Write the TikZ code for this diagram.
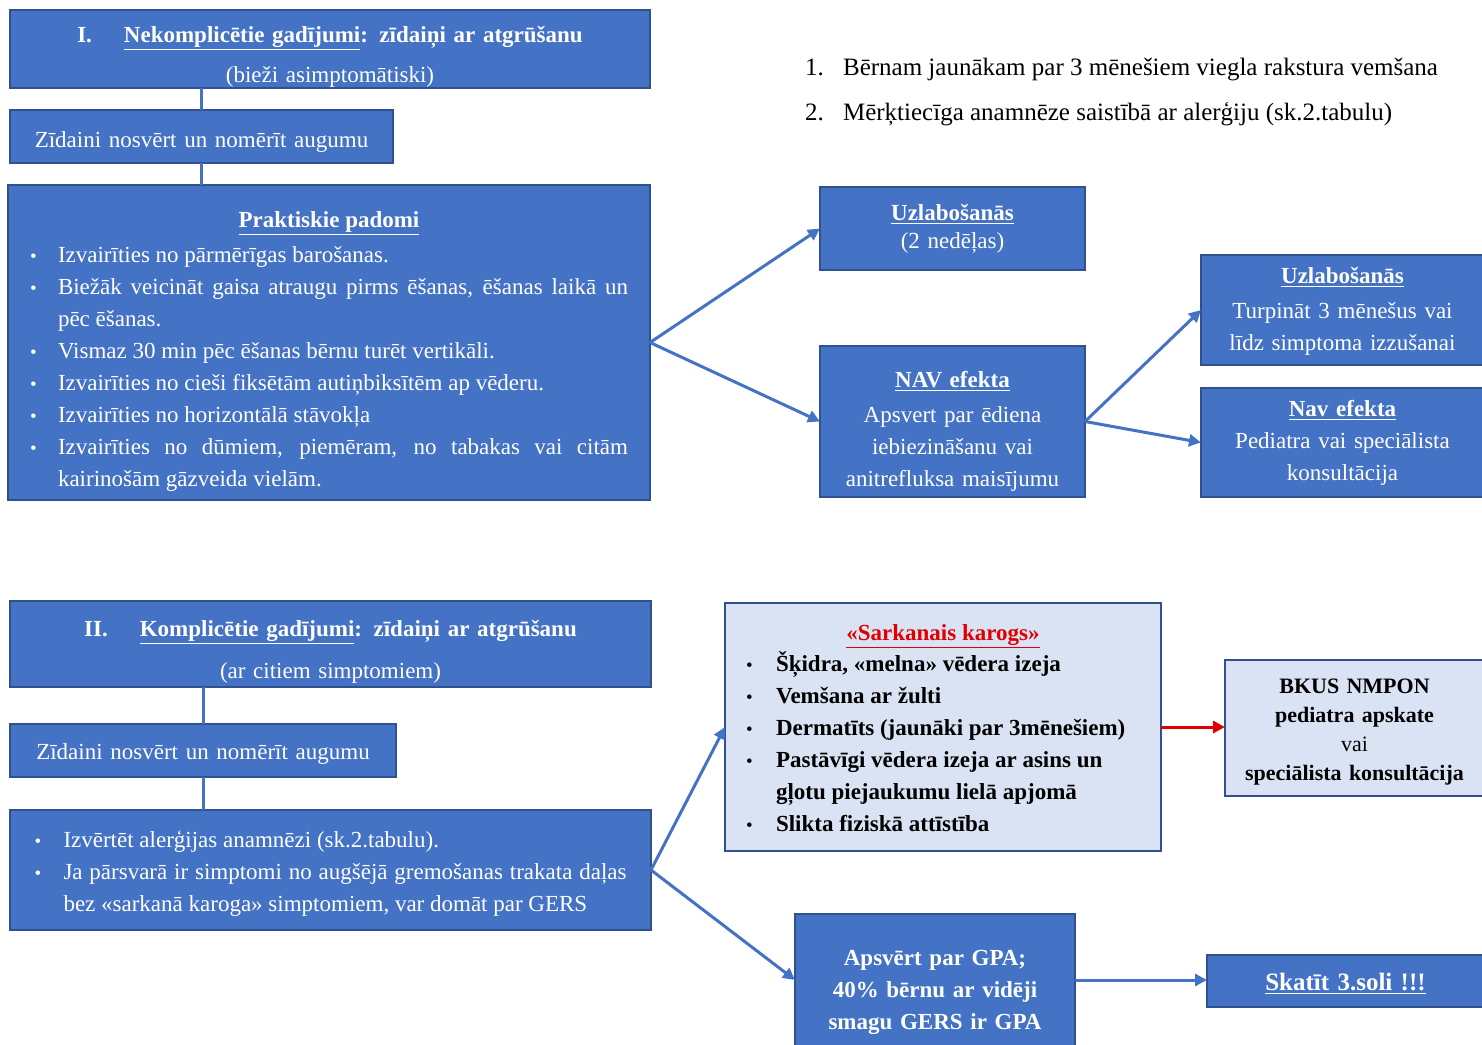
\documentclass[tikz,border=0pt]{standalone}
\usepackage{fontspec}
\setmainfont{Liberation Serif}
\usetikzlibrary{arrows.meta}

\definecolor{boxblue}{HTML}{4472C4}
\definecolor{boxedge}{HTML}{2F528F}
\definecolor{paleblue}{HTML}{DAE3F3}
\definecolor{flagred}{HTML}{E00000}

\hyphenpenalty=10000
\setlength{\parindent}{0pt}
\newcommand{\topgap}[1]{\rule{0pt}{#1}}
\newcommand{\botgap}[1]{\rule[-#1]{0pt}{0pt}}
\newcommand{\pitem}[1][14pt]{\par\noindent\hangindent=#1\hangafter=1\makebox[#1][l]{\fontsize{9.5}{9.5}\selectfont\textbullet}}

\tikzset{
  bluebox/.style={draw=boxedge, line width=0.8pt, fill=boxblue, text=white,
    inner xsep=0pt, inner ysep=0pt, outer sep=0pt, anchor=north west, align=center,
    font=\fontsize{11.5}{16}\selectfont},
  palebox/.style={bluebox, fill=paleblue, text=black},
  link/.style={draw=boxblue, line width=1.5pt},
  flow/.style={link, -{Triangle[length=6pt,width=6pt]}},
  redflow/.style={flow, draw=flagred},
  note/.style={anchor=base west, font=\fontsize{12.5}{15}\selectfont}
}

\begin{document}
\begin{tikzpicture}[x=0.5pt, y=-0.5pt]
\useasboundingbox (0,0) rectangle (1482,1044);

\node[bluebox, text width=320pt] (ttl1) at (10,10)
  {\topgap{16pt}\textbf{I.\hspace{16pt}\underline{Nekomplicētie gadījumi}: zīdaiņi ar atgrūšanu}\\[4pt]
   (bieži asimptomātiski)\botgap{3pt}};
\node[bluebox, text width=191.5pt] (zid1) at (10,110)
  {\topgap{18.5pt}Zīdaini nosvērt un nomērīt augumu\botgap{8pt}};
\node[bluebox, align=justify, text width=299pt, inner xsep=11pt] (pad) at (8,185)
  {{\centering\topgap{21pt}\textbf{\underline{Praktiskie padomi}}\par}\vspace{1.5pt}
   \pitem Izvairīties no pārmērīgas barošanas.
   \pitem Biežāk veicināt gaisa atraugu pirms ēšanas, ēšanas laikā un\linebreak pēc ēšanas.
   \pitem Vismaz 30 min pēc ēšanas bērnu turēt vertikāli.
   \pitem Izvairīties no cieši fiksētām autiņbiksītēm ap vēderu.
   \pitem Izvairīties no horizontālā stāvokļa
   \pitem Izvairīties no dūmiem, piemēram, no tabakas vai citām\linebreak kairinošām gāzveida vielām.\botgap{7pt}\par};

\node[note] (note1) at (798,75) {\makebox[19pt][l]{1.}Bērnam jaunākam par 3 mēnešiem viegla rakstura vemšana};
\node[note] (note2) at (798,120) {\makebox[19pt][l]{2.}Mērķtiecīga anamnēze saistībā ar alerģiju (sk.2.tabulu)};

\node[bluebox, text width=132.5pt] (uzl1) at (820,187)
  {\topgap{16.5pt}\textbf{\underline{Uzlabošanās}}\\[-2pt](2 nedēļas)\botgap{11pt}};
\node[bluebox, text width=132.5pt] (nav1) at (820,346)
  {\topgap{20.5pt}\textbf{\underline{NAV efekta}}\\[1.5pt]Apsvert par ēdiena\\iebiezināšanu vai\\anitrefluksa maisījumu\botgap{5.5pt}};
\node[bluebox, text width=141.5pt] (uzl2) at (1201,255)
  {\topgap{14pt}\textbf{\underline{Uzlabošanās}}\\[1.5pt]Turpināt 3 mēnešus vai\\līdz simptoma izzušanai\botgap{7.5pt}};
\node[bluebox, text width=141.5pt] (nav2) at (1201,388)
  {\topgap{14pt}\textbf{\underline{Nav efekta}}\\Pediatra vai speciālista\\konsultācija\botgap{8.5pt}};

\node[bluebox, text width=320.5pt] (ttl2) at (10,601)
  {\topgap{17.5pt}\textbf{II.\hspace{16pt}\underline{Komplicētie gadījumi}: zīdaiņi ar atgrūšanu}\\[5pt]
   (ar citiem simptomiem)\botgap{4.5pt}};
\node[bluebox, text width=193pt] (zid2) at (10,724)
  {\topgap{17.5pt}Zīdaini nosvērt un nomērīt augumu\botgap{9pt}};
\node[bluebox, align=justify, text width=296pt, inner xsep=11.5pt, minimum width=320.5pt] (eval) at (10,810)
  {\pitem[14.5pt]\topgap{17.5pt}Izvērtēt alerģijas anamnēzi (sk.2.tabulu).
   \pitem[14.5pt]Ja pārsvarā ir simptomi no augšējā gremošanas trakata daļas\linebreak bez «sarkanā karoga» simptomiem, var domāt par GERS\botgap{9.5pt}\par};

\node[palebox, align=justify, text width=197pt, inner xsep=10.5pt] (flag) at (725,603)
  {{\centering\topgap{18.5pt}{\color{flagred}\textbf{\underline{«Sarkanais karogs»}}}\par}\vspace{-0.5pt}
   \raggedright
   \pitem[15pt]\textbf{Šķidra, «melna» vēdera izeja}
   \pitem[15pt]\textbf{Vemšana ar žulti}
   \pitem[15pt]\textbf{Dermatīts (jaunāki par 3mēnešiem)}
   \pitem[15pt]\textbf{Pastāvīgi vēdera izeja ar asins un}\linebreak\textbf{gļotu piejaukumu lielā apjomā}
   \pitem[15pt]\textbf{Slikta fiziskā attīstība}\botgap{10pt}\par};
\node[palebox, text width=129.5pt, font=\fontsize{11}{16}\selectfont] (bkus) at (1225,660)
  {\topgap{16.5pt}\textbf{BKUS NMPON}\\[-1.5pt]\textbf{pediatra apskate}\\[-1.5pt]vai\\[-1.5pt]\textbf{speciālista konsultācija}\botgap{8pt}};
\node[bluebox, text width=140pt] (gpa) at (795,914)
  {\topgap{25.5pt}\textbf{Apsvērt par GPA;}\\\textbf{40\% bērnu ar vidēji}\\\textbf{smagu GERS ir GPA}\botgap{8.5pt}};
\node[bluebox, text width=138.5pt, font=\fontsize{12.5}{16}\selectfont] (skat) at (1207,955)
  {\topgap{17.5pt}\textbf{\underline{Skatīt 3.soli !!!}}\botgap{8.5pt}};

\draw[link] (ttl1.south -| zid1.north) -- (zid1.north);
\draw[link] (zid1.south) -- (zid1.south |- pad.north);
\draw[flow] (pad.east) -- (uzl1.west);
\draw[flow] (pad.east) -- (nav1.west);
\draw[flow] (nav1.east) -- (uzl2.west);
\draw[flow] (nav1.east) -- (nav2.west);

\draw[link] (ttl2.south -| zid2.north) -- (zid2.north);
\draw[link] (zid2.south) -- (zid2.south |- eval.north);
\draw[flow] (eval.east) -- (flag.west);
\draw[flow] (eval.east) -- (gpa.west);
\draw[redflow] (flag.east) -- (flag.east -| bkus.west);
\draw[flow] (gpa.east) -- (gpa.east -| skat.west);
\end{tikzpicture}
\end{document}
